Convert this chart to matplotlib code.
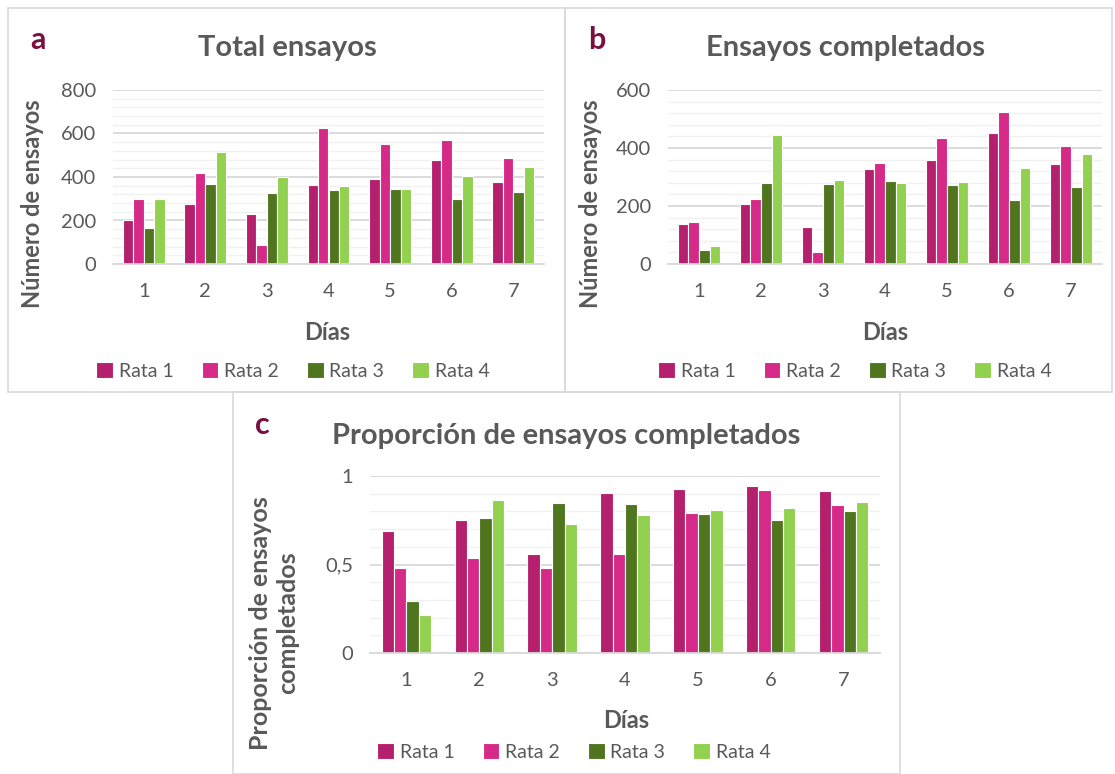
import matplotlib
matplotlib.use("Agg")
import matplotlib.pyplot as plt
from matplotlib.patches import Rectangle
from matplotlib.ticker import MultipleLocator, FuncFormatter
import numpy as np

plt.rcParams['font.family'] = ['Lato', 'DejaVu Sans']

dias = ["1", "2", "3", "4", "5", "6", "7"]
ratas = ["Rata 1", "Rata 2", "Rata 3", "Rata 4"]
colores = ["#B41F6E", "#D62A89", "#4F761E", "#92D050"]

total_r1 = [200, 277, 228, 364, 390, 479, 376]
total_r2 = [300, 418, 89, 624, 552, 572, 486]
total_r3 = [164, 367, 326, 338, 346, 297, 332]
total_r4 = [297, 514, 401, 358, 347, 405, 445]

comp_r1 = [137, 208, 127, 328, 359, 453, 344]
comp_r2 = [145, 224, 42, 349, 436, 524, 407]
comp_r3 = [47, 280, 275, 286, 271, 221, 265]
comp_r4 = [63, 445, 291, 279, 282, 332, 380]

prop_r1 = [0.688, 0.752, 0.56, 0.904, 0.924, 0.945, 0.915]
prop_r2 = [0.48, 0.537, 0.48, 0.56, 0.79, 0.922, 0.837]
prop_r3 = [0.291, 0.764, 0.847, 0.843, 0.783, 0.75, 0.803]
prop_r4 = [0.214, 0.866, 0.728, 0.779, 0.809, 0.819, 0.854]

W, H = 1115, 774
fig = plt.figure(figsize=(W / 100, H / 100), dpi=100)
fig.patch.set_facecolor("white")

TXT = "#595959"
LETTER = "#7A1042"
GRID_MAJ = "#D9D9D9"
GRID_MIN = "#F0F0F0"


def fx(px):
    return px / W


def fy(py):
    return 1 - py / H


def border(x0, y0, x1, y1):
    fig.patches.append(Rectangle((fx(x0), fy(y1)), fx(x1) - fx(x0), fy(y0) - fy(y1),
                                 transform=fig.transFigure, fill=False,
                                 edgecolor="#D9D9D9", linewidth=1.2, zorder=0))


def panel(left, right, top, bottom, series, ymax, major, minor, fmt):
    ax = fig.add_axes([fx(left), fy(bottom), fx(right) - fx(left), fy(top) - fy(bottom)])
    x = np.arange(len(dias))
    step = 0.17
    for i, (vals, c, lab) in enumerate(zip(series, colores, ratas)):
        ax.bar(x + (i - 1.5) * step, vals, width=step, color=c, edgecolor="white",
               linewidth=0.8, label=lab, zorder=3)
    ax.set_xlim(-0.5, len(dias) - 0.5)
    ax.set_ylim(0, ymax)
    ax.set_xticks(x)
    ax.set_xticklabels(dias)
    ax.yaxis.set_major_locator(MultipleLocator(major))
    ax.yaxis.set_minor_locator(MultipleLocator(minor))
    ax.yaxis.set_major_formatter(FuncFormatter(fmt))
    ax.grid(axis="y", which="major", color=GRID_MAJ, linewidth=1.3, zorder=0)
    ax.grid(axis="y", which="minor", color=GRID_MIN, linewidth=1.0, zorder=0)
    ax.set_axisbelow(True)
    for s in ["top", "right", "left"]:
        ax.spines[s].set_visible(False)
    ax.spines["bottom"].set_color(GRID_MAJ)
    ax.spines["bottom"].set_linewidth(1.3)
    ax.spines["bottom"].set_zorder(4)
    ax.tick_params(axis="both", which="both", length=0, labelsize=14.5, labelcolor=TXT)
    ax.tick_params(axis="x", pad=14)
    ax.tick_params(axis="y", pad=12)
    return ax


def legend(ax, cx, cy):
    h, l = ax.get_legend_handles_labels()
    fig.legend(h, l, loc="center", bbox_to_anchor=(fx(cx), fy(cy)), ncol=4,
               frameon=False, fontsize=14, labelcolor=TXT, handlelength=0.85,
               handleheight=0.85, handletextpad=0.3, columnspacing=1.45,
               borderaxespad=0)


int_fmt = lambda v, p: f"{int(round(v))}"
prop_fmt = lambda v, p: ("0" if abs(v) < 1e-9 else ("1" if abs(v - 1) < 1e-9 else f"{v:.1f}".replace(".", ",")))

# Panel a
border(8, 8, 565, 392)
axa = panel(113, 544, 90, 264, [total_r1, total_r2, total_r3, total_r4], 800, 200, 40, int_fmt)
fig.text(fx(38), fy(40), "a", fontsize=22, fontweight="bold", color=LETTER, ha="center", va="center")
fig.text(fx(287), fy(48), "Total ensayos", fontsize=21, fontweight="bold", color=TXT, ha="center", va="center")
fig.text(fx(33), fy(204), "Número de ensayos", fontsize=17, fontweight="bold", color=TXT,
         ha="center", va="center", rotation=90)
fig.text(fx(327), fy(333), "Días", fontsize=17, fontweight="bold", color=TXT, ha="center", va="center")
legend(axa, 293, 371)

# Panel b
border(565, 8, 1112, 392)
axb = panel(668, 1102, 90, 264, [comp_r1, comp_r2, comp_r3, comp_r4], 600, 200, 40, int_fmt)
fig.text(fx(597), fy(40), "b", fontsize=22, fontweight="bold", color=LETTER, ha="center", va="center")
fig.text(fx(845), fy(48), "Ensayos completados", fontsize=21, fontweight="bold", color=TXT, ha="center", va="center")
fig.text(fx(590), fy(204), "Número de ensayos", fontsize=17, fontweight="bold", color=TXT,
         ha="center", va="center", rotation=90)
fig.text(fx(885), fy(333), "Días", fontsize=17, fontweight="bold", color=TXT, ha="center", va="center")
legend(axb, 855, 371)

# Panel c
border(233, 392, 900, 774)
axc = panel(370, 880, 476, 653, [prop_r1, prop_r2, prop_r3, prop_r4], 1.0, 0.5, 0.1, prop_fmt)
fig.text(fx(262), fy(425), "c", fontsize=22, fontweight="bold", color=LETTER, ha="center", va="center")
fig.text(fx(566), fy(436), "Proporción de ensayos completados", fontsize=21, fontweight="bold",
         color=TXT, ha="center", va="center")
fig.text(fx(274), fy(623), "Proporción de ensayos\ncompletados", fontsize=18, fontweight="bold",
         color=TXT, ha="center", va="center", rotation=90, linespacing=1.25)
fig.text(fx(626), fy(720), "Días", fontsize=17, fontweight="bold", color=TXT, ha="center", va="center")
legend(axc, 574, 752)

fig.savefig("out.png", dpi=100, facecolor="white")
